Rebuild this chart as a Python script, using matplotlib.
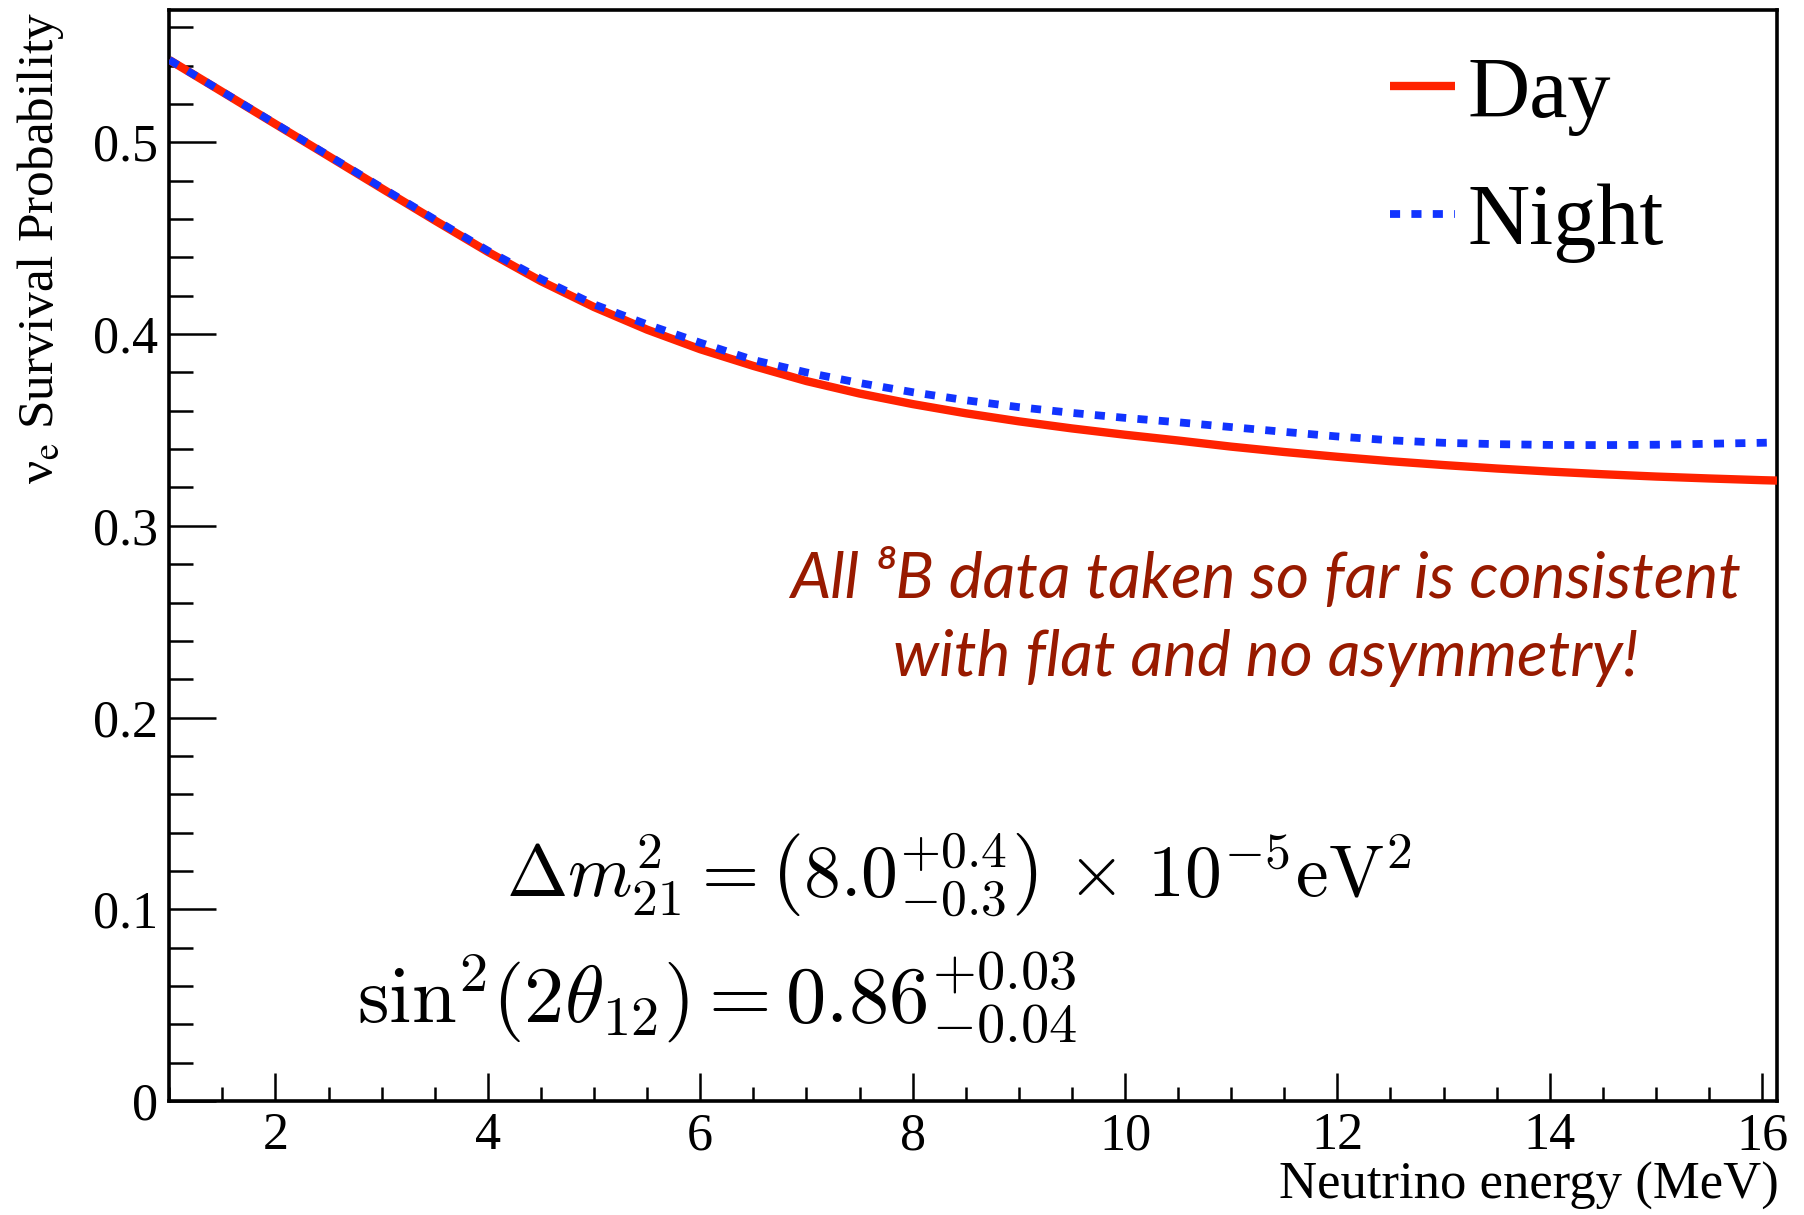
import matplotlib
matplotlib.use("Agg")
import matplotlib.pyplot as plt
from matplotlib.ticker import MultipleLocator, FixedLocator

# ---- data ----
energy = [1.0, 1.5, 2.0, 2.5, 3.0, 3.5, 4.0, 4.5, 5.0, 5.5, 6.0, 6.5, 7.0, 7.5,
          8.0, 8.5, 9.0, 9.5, 10.0, 10.5, 11.0, 11.5, 12.0, 12.5, 13.0, 13.5,
          14.0, 14.5, 15.0, 15.5, 16.0, 16.14]
day_prob = [0.5430, 0.5263, 0.5095, 0.4928, 0.4760, 0.4593, 0.4429, 0.4276, 0.4141,
            0.4023, 0.3921, 0.3834, 0.3755, 0.3690, 0.3635, 0.3587, 0.3545, 0.3508,
            0.3475, 0.3445, 0.3413, 0.3385, 0.3360, 0.3337, 0.3317, 0.3299, 0.3283,
            0.3269, 0.3257, 0.3247, 0.3238, 0.3236]
night_prob = [0.5430, 0.5264, 0.5097, 0.4931, 0.4764, 0.4598, 0.4435, 0.4288, 0.4155,
              0.4050, 0.3955, 0.3865, 0.3800, 0.3745, 0.3697, 0.3655, 0.3619, 0.3589,
              0.3563, 0.3540, 0.3515, 0.3490, 0.3466, 0.3446, 0.3433, 0.3426, 0.3422,
              0.3421, 0.3423, 0.3428, 0.3433, 0.3435]
series_labels = ["Day", "Night"]
x_label = "Neutrino energy (MeV)"
y_label = "\u03bd$_\\mathrm{e}$ Survival Probability"
note_lines = ["All \u2078B data taken so far is consistent", "with flat and no asymmetry!"]
eq_dm = r"$\Delta m^2_{21} = \left(8.0^{+0.4}_{-0.3}\right)\,\times\,10^{-5}\mathrm{eV}^2$"
eq_th = r"$\mathrm{sin}^2(2\theta_{12}) = 0.86^{+0.03}_{-0.04}$"

W, H = 1804, 1215
serif = ["Liberation Serif", "DejaVu Serif"]

fig = plt.figure(figsize=(W / 100, H / 100), dpi=100)
L, R, T, B = 169.3, 1777.0, 9.5, 1101.0
ax = fig.add_axes([L / W, 1 - B / H, (R - L) / W, (B - T) / H])

red = "#ff2200"
blue = "#1133ff"
ax.plot(energy, day_prob, color=red, lw=6.0, solid_capstyle="butt", solid_joinstyle="round",
        label=series_labels[0], zorder=3)
ax.plot(energy, night_prob, color=blue, lw=5.6, dashes=(1.3, 1.45), dash_capstyle="butt",
        label=series_labels[1], zorder=4)

ax.set_xlim(1.0, 16.14)
ax.set_ylim(0, 0.5693)

ax.xaxis.set_major_locator(FixedLocator([2, 4, 6, 8, 10, 12, 14, 16]))
ax.xaxis.set_minor_locator(MultipleLocator(0.5))
ax.yaxis.set_major_locator(MultipleLocator(0.1))
ax.yaxis.set_minor_locator(MultipleLocator(0.02))
ax.yaxis.set_major_formatter(matplotlib.ticker.FuncFormatter(lambda v, p: "0" if abs(v) < 1e-9 else f"{v:.1f}"))

for s in ax.spines.values():
    s.set_linewidth(2.6)
ax.tick_params(axis="both", which="both", direction="in", top=False, right=False, width=1.8)
ax.tick_params(axis="y", which="major", length=34, pad=8)
ax.tick_params(axis="y", which="minor", length=17)
ax.tick_params(axis="x", which="major", length=20, pad=8)
ax.tick_params(axis="x", which="minor", length=10)
for lab in ax.get_xticklabels() + ax.get_yticklabels():
    lab.set_fontfamily(serif)
    lab.set_fontsize(37.5)

fig.text(R / W + 0.001, 1 - 1199 / H, x_label, ha="right", va="baseline", fontsize=38, family=serif)
fig.text(41 / W, 1 - 12 / H, y_label, ha="center", va="top", rotation=90, fontsize=37,
         family=serif, math_fontfamily="stix")

leg = ax.legend(loc="upper left", bbox_to_anchor=(1390 / W, 1 - 56 / H), bbox_transform=fig.transFigure,
                frameon=False, prop={"family": serif, "size": 62}, handlelength=0.75,
                handletextpad=0.15, labelspacing=0.56, borderpad=0, borderaxespad=0)

note_color = "#981a00"
fig.text(1266 / W, 1 - 598 / H, note_lines[0], ha="center", va="baseline", fontsize=46,
         family=["Lato", "DejaVu Sans"], style="italic", color=note_color)
fig.text(1266 / W, 1 - 676 / H, note_lines[1], ha="center", va="baseline", fontsize=46,
         family=["Lato", "DejaVu Sans"], style="italic", color=note_color)

fig.text(506 / W, 1 - 897 / H, eq_dm, ha="left", va="baseline", fontsize=53, math_fontfamily="cm")
fig.text(357 / W, 1 - 1022 / H, eq_th, ha="left", va="baseline", fontsize=58, math_fontfamily="cm")

fig.savefig("out.png", dpi=100)
